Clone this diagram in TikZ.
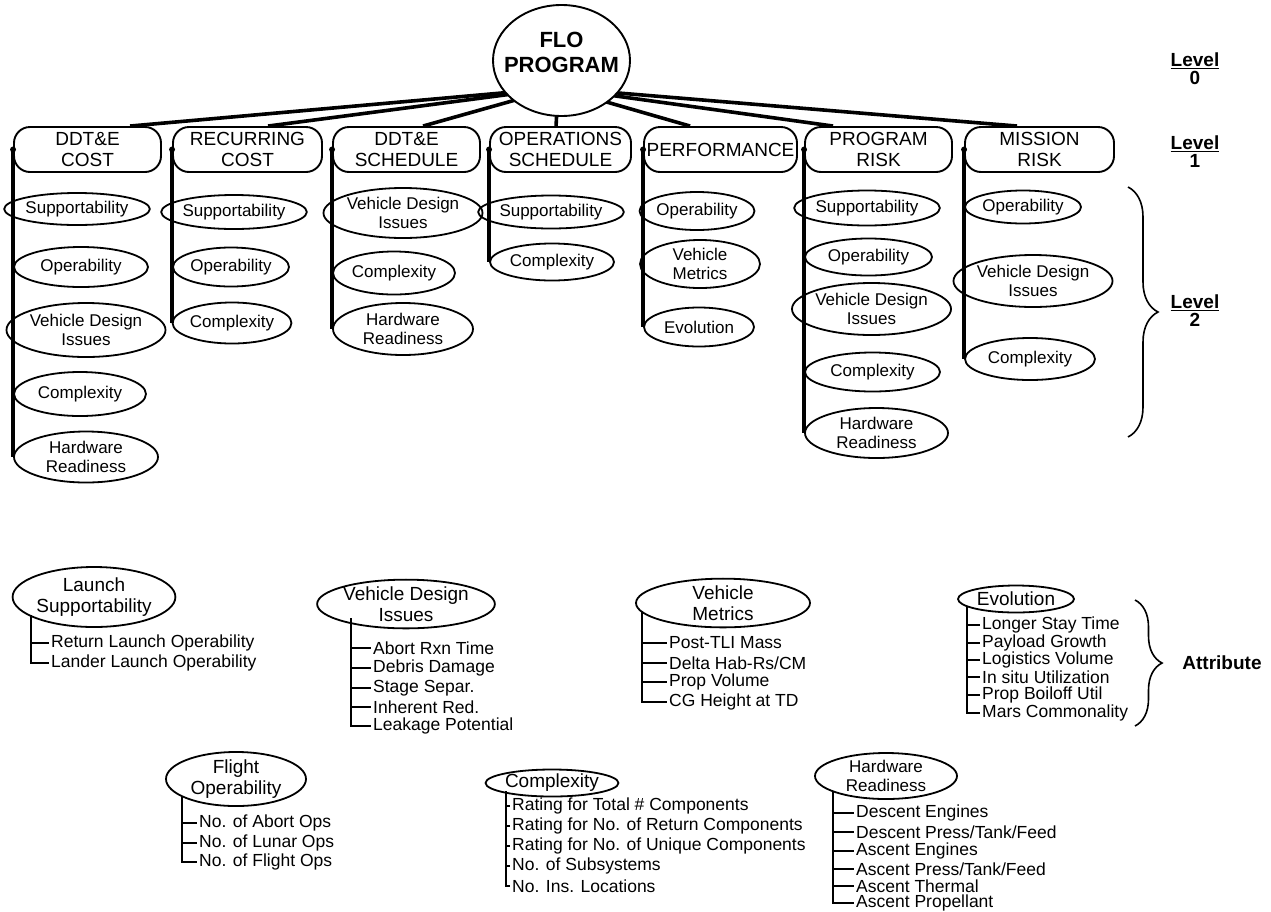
\documentclass[tikz,border=0pt]{standalone}
\usepackage{fontspec}
\setmainfont{Liberation Sans}
\usetikzlibrary{shapes.geometric,decorations.pathreplacing,calc}
\begin{document}
\begin{tikzpicture}[x=1pt,y=-1pt,
  lvlbox/.style={draw, line width=1.9pt, rounded corners=16pt, minimum height=45pt, inner sep=0pt, align=center, font=\fontsize{19}{21}\selectfont},
  lvtwo/.style={draw, ellipse, line width=1.8pt, inner sep=0pt, align=center, font=\fontsize{17}{18.5}\selectfont},
  bott/.style={draw, ellipse, line width=1.8pt, inner sep=0pt, align=center, font=\fontsize{19}{20.5}\selectfont},
  sz/.style 2 args={minimum width=#1pt, minimum height=#2pt},
  conn/.style={line width=3.6pt},
  vline/.style={line width=3.4pt},
  tree/.style={line width=2.3pt},
  tick/.style={line width=1.7pt},
  item/.style={anchor=west, inner xsep=2pt, inner ysep=0pt, font=\fontsize{17.5}{19}\selectfont},
  lvl/.style={align=center, inner sep=0pt, font=\bfseries\fontsize{19}{18}\selectfont},
  brc/.style={decorate, line width=1.6pt, decoration={brace, amplitude=#1}},
]
\useasboundingbox (0,0) rectangle (1271,911);

% Level 1 boxes
\node[lvlbox, minimum width=147pt] (b1) at (87.5,149.5) {DDT\&E\\COST};
\node[lvlbox, minimum width=149pt] (b2) at (247.5,149.5) {RECURRING\\COST};
\node[lvlbox, minimum width=147pt] (b3) at (406.5,149.5) {DDT\&E\\SCHEDULE};
\node[lvlbox, minimum width=141pt] (b4) at (560.5,149.5) {OPERATIONS\\SCHEDULE};
\node[lvlbox, minimum width=153pt] (b5) at (720.5,149.5) {PERFORMANCE};
\node[lvlbox, minimum width=147pt] (b6) at (878.5,149.5) {PROGRAM\\RISK};
\node[lvlbox, minimum width=149pt] (b7) at (1039.5,149.5) {MISSION\\RISK};

% connectors from level 0
\coordinate (hub) at (558,88);
\draw[conn] (hub) -- ($(b1.north west)+(117,0)$);
\draw[conn] (hub) -- ($(b2.north west)+(96,0)$);
\draw[conn] (hub) -- ($(b3.north west)+(91,0)$);
\draw[conn] (hub) -- ($(b4.north west)+(67,0)$);
\draw[conn] (hub) -- ($(b5.north west)+(47,0)$);
\draw[conn] (hub) -- ($(b6.north west)+(29,0)$);
\draw[conn] (hub) -- ($(b7.north west)+(53,0)$);

% Level 0
\node[draw, ellipse, line width=1.9pt, fill=white, minimum width=137pt, minimum height=111pt, inner sep=0pt] (flo) at (561.5,60.5) {};
\node[align=center, font=\bfseries\fontsize{22}{25}\selectfont] (flotxt) at (561.5,52.5) {FLO\\PROGRAM};

% Level 2 ellipses
\node[lvtwo, sz={126}{32}] (e11) at (77,209) {Supportability};
\node[lvtwo, sz={134}{40}] (e12) at (81,267) {Operability};
\node[lvtwo, sz={144}{54}] (e13) at (86,330) {Vehicle Design\\Issues};
\node[lvtwo, sz={132}{44}] (e14) at (80,394) {Complexity};
\node[lvtwo, sz={144}{51}] (e15) at (86,457) {Hardware\\Readiness};

\node[lvtwo, sz={122}{34}] (e21) at (234,212) {Supportability};
\node[lvtwo, sz={116}{39}] (e22) at (231,267) {Operability};
\node[lvtwo, sz={118}{41}] (e23) at (232,323) {Complexity};

\node[lvtwo, sz={140}{50}] (e31) at (403,213) {Vehicle Design\\Issues};
\node[lvtwo, sz={122}{43}] (e32) at (394,273) {Complexity};
\node[lvtwo, sz={140}{52}] (e33) at (403,329) {Hardware\\Readiness};

\node[lvtwo, sz={122}{33}] (e41) at (551,212) {Supportability};
\node[lvtwo, sz={124}{37}] (e42) at (552,262) {Complexity};

\node[lvtwo, sz={106}{38}] (e51) at (697,211) {Operability};
\node[lvtwo, sz={120}{48}] (e52) at (700,264) {Vehicle\\Metrics};
\node[lvtwo, sz={110}{39}] (e53) at (699,327) {Evolution};

\node[lvtwo, sz={124}{35}] (e61) at (867,208) {Supportability};
\node[lvtwo, sz={127}{37}] (e62) at (868.5,257) {Operability};
\node[lvtwo, sz={133}{52}] (e63) at (871.5,309) {Vehicle Design\\Issues};
\node[lvtwo, sz={135}{39}] (e64) at (872.5,372) {Complexity};
\node[lvtwo, sz={143}{50}] (e65) at (876.5,433) {Hardware\\Readiness};

\node[lvtwo, sz={116}{33}] (e71) at (1023,207) {Operability};
\node[lvtwo, sz={136}{52}] (e72) at (1033,281) {Vehicle Design\\Issues};
\node[lvtwo, sz={130}{42}] (e73) at (1030,359) {Complexity};

% column lines
\draw[vline] (b1.west) -- (b1.west |- e15.west);
\draw[vline] (b2.west) -- (b2.west |- e23.west);
\draw[vline] (b3.west) -- (b3.west |- e33.west);
\draw[vline] (b4.west) -- (b4.west |- e42.west);
\draw[vline] (b5.west) -- (b5.west |- e53.west);
\draw[vline] (b6.west) -- (b6.west |- e65.west);
\draw[vline] (b7.west) -- (b7.west |- e73.west);
\foreach \b in {b1,b2,b3,b4,b5,b6,b7} \fill (\b.west) circle (3pt);

% level labels and braces
\node[lvl] (lv0) at (1195,69) {\underline{Level}\\0};
\node[lvl] (lv1) at (1195,152) {\underline{Level}\\1};
\node[lvl] (lv2) at (1195,311) {\underline{Level}\\2};
\draw[brc=30pt] (1128,187) -- (1128,437);

% bottom: attributes
\node[bott, sz={160}{60}] (ls) at (94,597) {Launch\\Supportability};
\node[bott, sz={140}{48}] (vd) at (406,604) {Vehicle Design\\Issues};
\node[bott, sz={174}{44}] (vm) at (723,603) {Vehicle\\Metrics};
\node[bott, sz={116}{27}] (ev) at (1016,599) {Evolution};
\node[bott, sz={140}{54}] (fo) at (236,779) {Flight\\Operability};
\node[bott, sz={118}{27}] (cx) at (552,783) {Complexity};
\node[bott, sz={142}{46}, font=\fontsize{17}{18.5}\selectfont] (hr) at (886,776) {Hardware\\Readiness};

\coordinate (lsr) at (31,615);
\coordinate (vdr) at (351,618);
\coordinate (vmr) at (642,611);
\coordinate (evr) at (967,606);
\coordinate (for) at (182,796);
\coordinate (cxr) at (506,791);
\coordinate (hrr) at (833,791);

\node[item] (ls1) at (49,643) {Return Launch Operability};
\node[item] (ls2) at (49,663) {Lander Launch Operability};
\draw[tree] (lsr) |- (ls2.west);
\draw[tick] (lsr |- ls1.west) -- (ls1.west);

\node[item] (vd1) at (371,648) {Abort Rxn Time};
\node[item] (vd2) at (371,668) {Debris Damage};
\node[item] (vd3) at (371,688) {Stage Separ.};
\node[item] (vd4) at (371,707) {Inherent Red.};
\node[item] (vd5) at (371,726) {Leakage Potential};
\draw[tree] (vdr) |- (vd5.west);
\foreach \i in {vd1,vd2,vd3,vd4} \draw[tick] (vdr |- \i.west) -- (\i.west);

\node[item] (vm1) at (667,643) {Post-TLI Mass};
\node[item] (vm2) at (667,663) {Delta Hab-Rs/CM};
\node[item] (vm3) at (667,682) {Prop Volume};
\node[item] (vm4) at (667,702) {CG Height at TD};
\draw[tree] (vmr) |- (vm4.west);
\foreach \i in {vm1,vm2,vm3} \draw[tick] (vmr |- \i.west) -- (\i.west);

\node[item] (ev1) at (980,625) {Longer Stay Time};
\node[item] (ev2) at (980,643) {Payload Growth};
\node[item] (ev3) at (980,660) {Logistics Volume};
\node[item] (ev4) at (980,677) {In situ Utilization};
\node[item] (ev5) at (980,695) {Prop Boiloff Util};
\node[item] (ev6) at (980,713) {Mars Commonality};
\draw[tree] (evr) |- (ev6.west);
\foreach \i in {ev1,ev2,ev3,ev4,ev5} \draw[tick] (evr |- \i.west) -- (\i.west);

\draw[brc=27pt] (1135,600) -- (1135,726);
\node[font=\bfseries\fontsize{19}{21}\selectfont] (attr) at (1222,663) {Attribute};

\node[item] (fo1) at (197,823) {No. of Abort Ops};
\node[item] (fo2) at (197,843) {No. of Lunar Ops};
\node[item] (fo3) at (197,862) {No. of Flight Ops};
\draw[tree] (for) |- (fo3.west);
\foreach \i in {fo1,fo2} \draw[tick] (for |- \i.west) -- (\i.west);

\node[item] (cx1) at (510,806) {Rating for Total \# Components};
\node[item] (cx2) at (510,826) {Rating for No. of Return Components};
\node[item] (cx3) at (510,846) {Rating for No. of Unique Components};
\node[item] (cx4) at (510,866) {No. of Subsystems};
\node[item] (cx5) at (510,886) {No. Ins. Locations};
\draw[tree] (cxr) |- (cx5.west);
\foreach \i in {cx1,cx2,cx3,cx4} \draw[tick] (cxr |- \i.west) -- (\i.west);

\node[item] (hr1) at (854,813) {Descent Engines};
\node[item] (hr2) at (854,832) {Descent Press/Tank/Feed};
\node[item] (hr3) at (854,851) {Ascent Engines};
\node[item] (hr4) at (854,869) {Ascent Press/Tank/Feed};
\node[item] (hr5) at (854,886) {Ascent Thermal};
\node[item] (hr6) at (854,903) {Ascent Propellant};
\draw[tree] (hrr) |- (hr6.west);
\foreach \i in {hr1,hr2,hr3,hr4,hr5} \draw[tick] (hrr |- \i.west) -- (\i.west);
\end{tikzpicture}
\end{document}
